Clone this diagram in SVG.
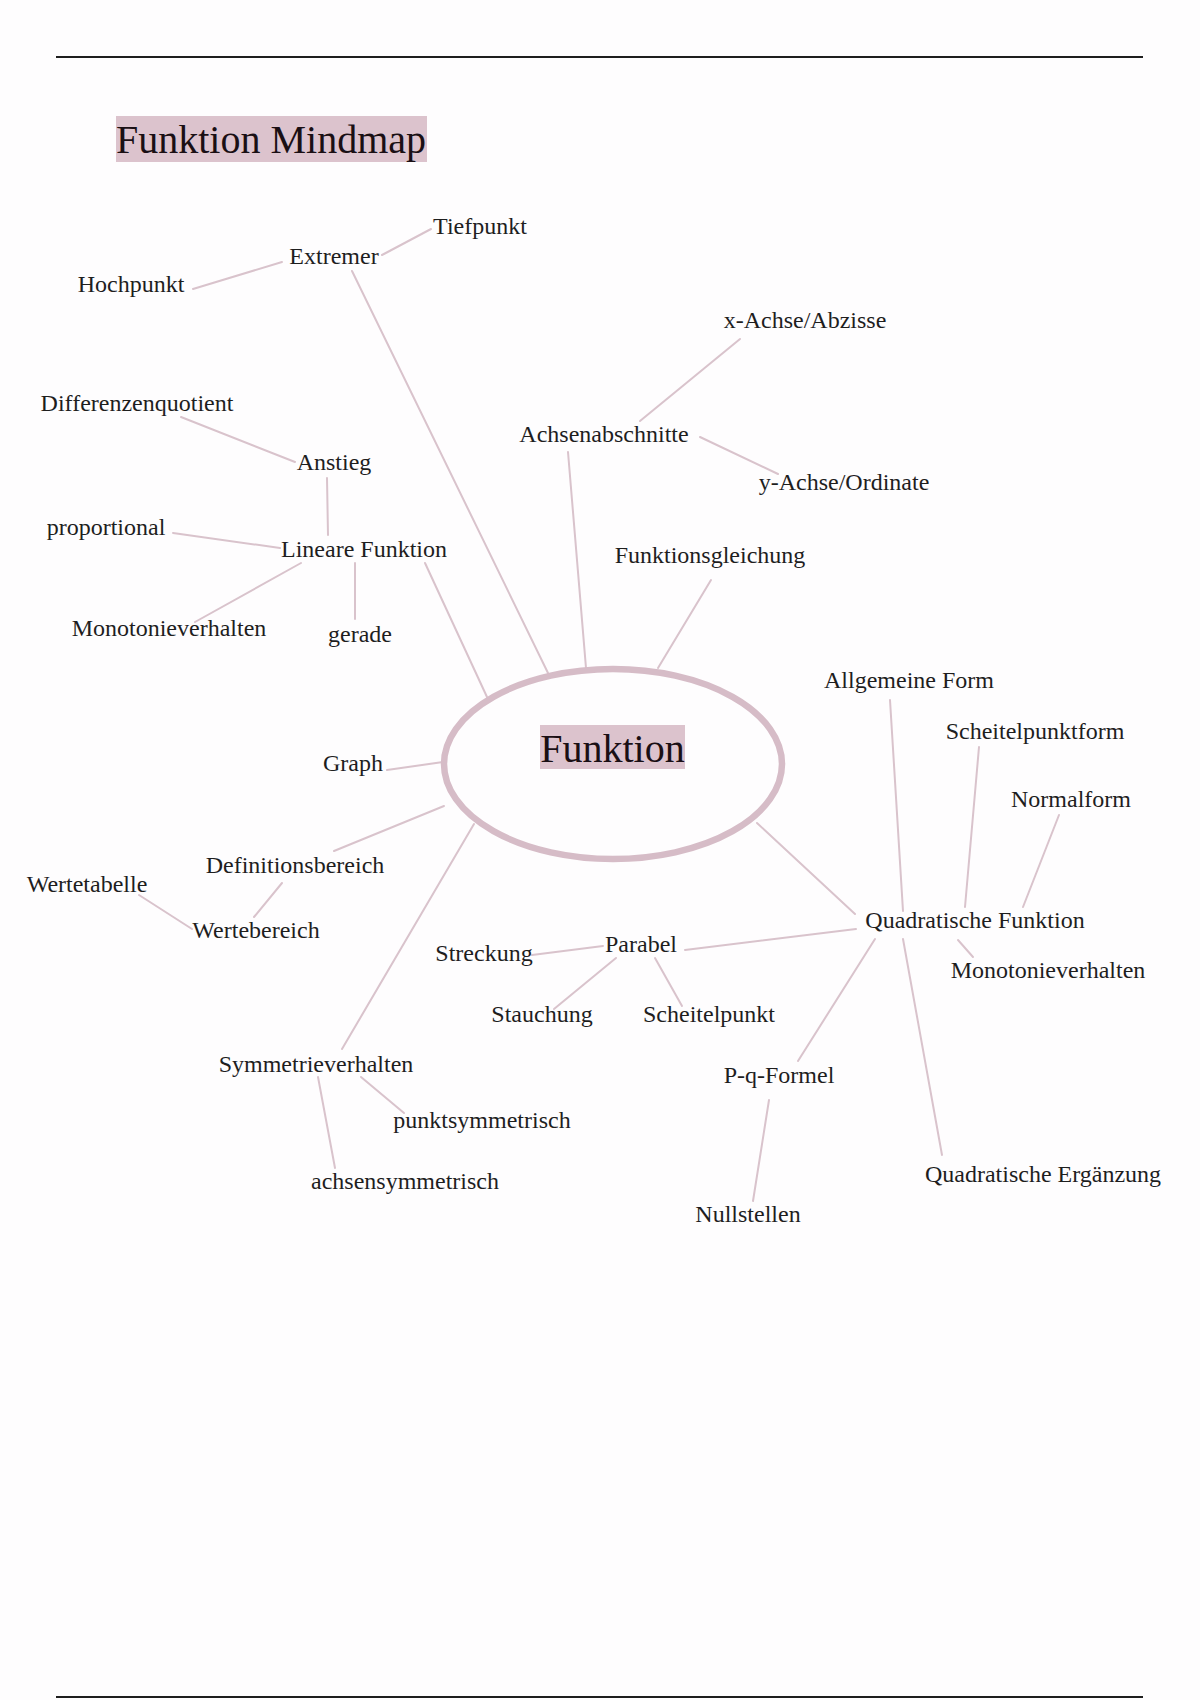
<svg xmlns="http://www.w3.org/2000/svg" width="1200" height="1700" viewBox="0 0 1200 1700">
<style>
.bg{fill:#fefdfe}
.rule{stroke:#1e1e1e;stroke-width:2}
.hl{fill:#dcc3cd}
.t{font-family:"Liberation Serif","Times New Roman",serif;font-size:24px;fill:#1e1e1e;text-anchor:middle}
.big{font-family:"Liberation Serif","Times New Roman",serif;font-size:40px;fill:#1a0f14}
.c line{stroke:#d9c3cc;stroke-width:2;stroke-linecap:round}
.hub{fill:none;stroke:#d6bcc7;stroke-width:6.5}
</style>
<rect class="bg" x="0" y="0" width="1200" height="1700"/>
<line class="rule" x1="56" y1="57" x2="1143" y2="57"/>
<line class="rule" x1="56" y1="1697" x2="1143" y2="1697"/>
<g id="title">
<rect class="hl" x="116" y="116" width="311" height="46"/>
<text class="big" x="116" y="153">Funktion Mindmap</text>
</g>
<g id="connectors" class="c">
<line x1="382" y1="255" x2="431" y2="229"/>
<line x1="282" y1="262" x2="193" y2="289"/>
<line x1="352" y1="271" x2="548" y2="673"/>
<line x1="181" y1="417" x2="295" y2="462"/>
<line x1="327" y1="478" x2="328" y2="535"/>
<line x1="173" y1="533" x2="280" y2="548"/>
<line x1="301" y1="563" x2="195" y2="622"/>
<line x1="355" y1="563" x2="355" y2="619"/>
<line x1="425" y1="563" x2="487" y2="697"/>
<line x1="640" y1="421" x2="740" y2="339"/>
<line x1="700" y1="437" x2="778" y2="474"/>
<line x1="568" y1="452" x2="586" y2="668"/>
<line x1="711" y1="580" x2="658" y2="668"/>
<line x1="387" y1="770" x2="443" y2="762"/>
<line x1="334" y1="851" x2="444" y2="806"/>
<line x1="282" y1="883" x2="254" y2="917"/>
<line x1="139" y1="895" x2="192" y2="929"/>
<line x1="342" y1="1049" x2="474" y2="824"/>
<line x1="361" y1="1077" x2="404" y2="1113"/>
<line x1="318" y1="1077" x2="335" y2="1168"/>
<line x1="757" y1="823" x2="855" y2="914"/>
<line x1="685" y1="950" x2="856" y2="929"/>
<line x1="532" y1="955" x2="603" y2="946"/>
<line x1="554" y1="1009" x2="616" y2="958"/>
<line x1="655" y1="958" x2="682" y2="1006"/>
<line x1="903" y1="911" x2="890" y2="700"/>
<line x1="965" y1="907" x2="979" y2="747"/>
<line x1="1023" y1="907" x2="1059" y2="815"/>
<line x1="958" y1="940" x2="973" y2="957"/>
<line x1="875" y1="939" x2="798" y2="1061"/>
<line x1="903" y1="939" x2="942" y2="1155"/>
<line x1="769" y1="1100" x2="753" y2="1201"/>
</g>
<g id="n-funktion">
<ellipse class="hub" cx="613" cy="764" rx="169" ry="95"/>
<rect class="hl" x="540" y="725" width="145" height="44"/>
<text class="big" x="612.5" y="762" text-anchor="middle">Funktion</text>
</g>
<g id="n-tiefpunkt"><text class="t" x="480" y="234">Tiefpunkt</text></g>
<g id="n-extremer"><text class="t" x="334" y="264">Extremer</text></g>
<g id="n-hochpunkt"><text class="t" x="131" y="292">Hochpunkt</text></g>
<g id="n-xachse"><text class="t" x="805" y="328">x-Achse/Abzisse</text></g>
<g id="n-differenzenquotient"><text class="t" x="137" y="411">Differenzenquotient</text></g>
<g id="n-achsenabschnitte"><text class="t" x="604" y="442">Achsenabschnitte</text></g>
<g id="n-anstieg"><text class="t" x="334" y="470">Anstieg</text></g>
<g id="n-yachse"><text class="t" x="844" y="490">y-Achse/Ordinate</text></g>
<g id="n-proportional"><text class="t" x="106" y="535">proportional</text></g>
<g id="n-lineare"><text class="t" x="364" y="557">Lineare Funktion</text></g>
<g id="n-funktionsgleichung"><text class="t" x="710" y="563">Funktionsgleichung</text></g>
<g id="n-monoton-l"><text class="t" x="169" y="636">Monotonieverhalten</text></g>
<g id="n-gerade"><text class="t" x="360" y="642">gerade</text></g>
<g id="n-allgemein"><text class="t" x="909" y="688">Allgemeine Form</text></g>
<g id="n-scheitelform"><text class="t" x="1035" y="739">Scheitelpunktform</text></g>
<g id="n-graph"><text class="t" x="353" y="771">Graph</text></g>
<g id="n-normalform"><text class="t" x="1071" y="807">Normalform</text></g>
<g id="n-definitionsbereich"><text class="t" x="295" y="873">Definitionsbereich</text></g>
<g id="n-wertetabelle"><text class="t" x="87" y="892">Wertetabelle</text></g>
<g id="n-quadratisch"><text class="t" x="975" y="928">Quadratische Funktion</text></g>
<g id="n-wertebereich"><text class="t" x="256" y="938">Wertebereich</text></g>
<g id="n-parabel"><text class="t" x="641" y="952">Parabel</text></g>
<g id="n-streckung"><text class="t" x="484" y="961">Streckung</text></g>
<g id="n-monoton-r"><text class="t" x="1048" y="978">Monotonieverhalten</text></g>
<g id="n-stauchung"><text class="t" x="542" y="1022">Stauchung</text></g>
<g id="n-scheitelpunkt"><text class="t" x="709" y="1022">Scheitelpunkt</text></g>
<g id="n-symmetrie"><text class="t" x="316" y="1072">Symmetrieverhalten</text></g>
<g id="n-pq"><text class="t" x="779" y="1083">P-q-Formel</text></g>
<g id="n-punktsym"><text class="t" x="482" y="1128">punktsymmetrisch</text></g>
<g id="n-qerg"><text class="t" x="1043" y="1182">Quadratische Ergänzung</text></g>
<g id="n-achsensym"><text class="t" x="405" y="1189">achsensymmetrisch</text></g>
<g id="n-nullstellen"><text class="t" x="748" y="1222">Nullstellen</text></g>
</svg>
